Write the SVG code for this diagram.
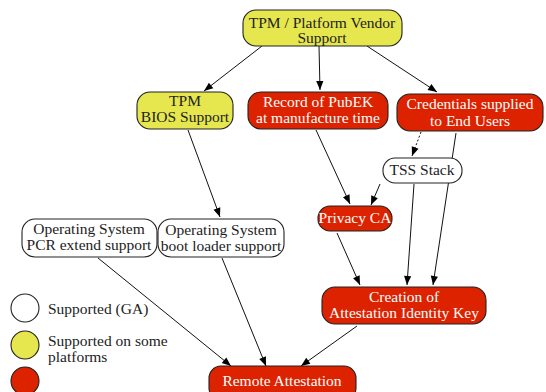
<svg xmlns="http://www.w3.org/2000/svg" width="546" height="392" viewBox="0 0 546 392">
  <style>
    text { font-family: "Liberation Serif", "DejaVu Serif", serif; font-size: 15.5px; text-anchor: middle; fill: #222; }
    .node rect { stroke: #222; stroke-width: 1.1; }
    .ga rect { fill: #ffffff; }
    .some rect { fill: #e6e64e; }
    .none rect { fill: #dd2200; }
    .none text { fill: #ffffff; }
    .edges line { stroke: #111; stroke-width: 1; fill: none; marker-end: url(#arrow); }
    .edges .dotted { stroke-dasharray: 2 2; }
    .legend circle { stroke: #222; stroke-width: 1.1; }
    .legend text { text-anchor: start; }
  </style>
  <defs>
    <marker id="arrow" viewBox="0 0 10 10" refX="10" refY="5" markerWidth="10" markerHeight="9" markerUnits="userSpaceOnUse" orient="auto">
      <path d="M0,1 L10,5 L0,9 z" fill="#000"/>
    </marker>
  </defs>

  <g class="edges">
    <line x1="262" y1="46" x2="204" y2="91"/>
    <line x1="319" y1="46" x2="320" y2="90"/>
    <line x1="367" y1="46" x2="437" y2="92"/>
    <line x1="188" y1="130" x2="220" y2="217"/>
    <line x1="316" y1="130" x2="350" y2="204"/>
    <line class="dotted" x1="421" y1="132" x2="412" y2="156"/>
    <line x1="380" y1="184" x2="371" y2="205"/>
    <line x1="414" y1="184" x2="407" y2="285"/>
    <line x1="456" y1="133" x2="433" y2="285"/>
    <line x1="337" y1="233" x2="360" y2="285"/>
    <line x1="98" y1="258" x2="231" y2="366"/>
    <line x1="222" y1="258" x2="266" y2="366"/>
    <line x1="357" y1="326" x2="301" y2="366"/>
  </g>

  <g id="vendor" class="node some">
    <rect x="243" y="10" width="159" height="36" rx="13"/>
    <text x="322" y="27.5">TPM / Platform Vendor</text>
    <text x="322" y="43">Support</text>
  </g>
  <g id="bios" class="node some">
    <rect x="137" y="92" width="96" height="37" rx="13"/>
    <text x="185" y="106">TPM</text>
    <text x="185" y="122">BIOS Support</text>
  </g>
  <g id="pubek" class="node none">
    <rect x="248" y="92" width="140" height="37" rx="13"/>
    <text x="318" y="107">Record of PubEK</text>
    <text x="318" y="123">at manufacture time</text>
  </g>
  <g id="credentials" class="node none">
    <rect x="397" y="94" width="146" height="37" rx="13"/>
    <text x="470" y="109">Credentials supplied</text>
    <text x="470" y="126">to End Users</text>
  </g>
  <g id="tss" class="node ga">
    <rect x="383" y="158" width="79" height="25" rx="12"/>
    <text x="422" y="175">TSS Stack</text>
  </g>
  <g id="privacy-ca" class="node none">
    <rect x="318" y="206" width="74" height="25" rx="12"/>
    <text x="355" y="223">Privacy CA</text>
  </g>
  <g id="os-pcr" class="node ga">
    <rect x="22" y="219" width="135" height="38" rx="13"/>
    <text x="89" y="234">Operating System</text>
    <text x="89" y="250">PCR extend support</text>
  </g>
  <g id="os-boot" class="node ga">
    <rect x="158" y="219" width="126" height="38" rx="13"/>
    <text x="221" y="235">Operating System</text>
    <text x="221" y="251">boot loader support</text>
  </g>
  <g id="aik" class="node none">
    <rect x="322" y="287" width="164" height="37" rx="13"/>
    <text x="404" y="302">Creation of</text>
    <text x="404" y="318">Attestation Identity Key</text>
  </g>
  <g id="remote" class="node none">
    <rect x="209" y="366" width="147" height="34" rx="12"/>
    <text x="282" y="386">Remote Attestation</text>
  </g>

  <g class="legend">
    <circle cx="25" cy="308" r="14" fill="#ffffff"/>
    <text x="48" y="314">Supported (GA)</text>
    <circle cx="25" cy="345" r="14" fill="#e6e64e"/>
    <text x="48" y="346">Supported on some</text>
    <text x="48" y="362">platforms</text>
    <circle cx="25" cy="381" r="14" fill="#dd2200"/>
  </g>
</svg>
